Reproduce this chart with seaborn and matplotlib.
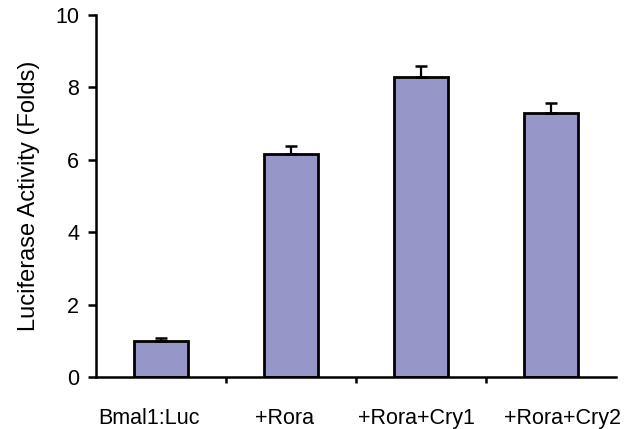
import matplotlib
matplotlib.use("Agg")
import matplotlib.pyplot as plt
import matplotlib.transforms as mtransforms
import seaborn as sns
import numpy as np
import pandas as pd

# Luciferase reporter data (fold activation over Bmal1:Luc alone)
conditions = ["Bmal1:Luc", "+Rora", "+Rora+Cry1", "+Rora+Cry2"]
fold_activity = [1.0, 6.15, 8.28, 7.3]
sem_upper = [0.08, 0.22, 0.32, 0.27]
y_ticks = [0, 2, 4, 6, 8, 10]

sns.set_theme(style="white")
plt.rcParams["font.family"] = ["Liberation Sans", "DejaVu Sans"]
plt.rcParams["text.color"] = "black"
plt.rcParams["axes.labelcolor"] = "black"
plt.rcParams["xtick.color"] = "black"
plt.rcParams["ytick.color"] = "black"

df = pd.DataFrame({"condition": conditions, "fold": fold_activity})

fig = plt.figure(figsize=(6.38, 4.29), dpi=100)
ax = fig.add_axes([0.1505, 0.1212, 0.815, 0.8438])

sns.barplot(data=df, x="condition", y="fold", color="#9696C8", saturation=1,
            edgecolor="black", linewidth=2.0, width=0.415, ax=ax, zorder=2)

# one-sided (upper) error bars
xpos = np.arange(len(conditions))
ax.errorbar(xpos, fold_activity, yerr=[np.zeros(len(sem_upper)), sem_upper],
            fmt="none", ecolor="black", elinewidth=1.6, capsize=4.2,
            capthick=1.8, zorder=3)

ax.set_xlim(-0.5, len(conditions) - 0.5)
ax.set_ylim(0, 10)
ax.set_yticks(y_ticks)
ax.set_yticklabels([str(t) for t in y_ticks])

# category labels at the bar centres, tick marks between categories
ax.set_xticks(xpos)
ax.set_xticklabels(conditions)
ax.set_xticks(np.arange(0.5, len(conditions) - 0.5, 1.0), minor=True)
ax.tick_params(axis="x", which="major", bottom=True, length=0, pad=22,
               labelsize=15.5, labelcolor="black")
ax.tick_params(axis="x", which="minor", bottom=True, length=4, width=1.8,
               direction="out", color="black")
ax.tick_params(axis="y", which="major", left=True, length=6, width=1.8,
               direction="out", color="black", pad=6, labelsize=15.5,
               labelcolor="black")

# nudge the category labels sideways (in points), as laid out on the sheet
label_shift = [-9, -5, -3, 8.5]
for lbl, dx in zip(ax.get_xticklabels(), label_shift):
    lbl.set_transform(lbl.get_transform() +
                      mtransforms.ScaledTranslation(dx / 72, 0, fig.dpi_scale_trans))

ax.set_xlabel("")
ax.set_ylabel("Luciferase Activity (Folds)", fontsize=17, labelpad=11,
              color="black")

for side in ("top", "right"):
    ax.spines[side].set_visible(False)
for side in ("left", "bottom"):
    ax.spines[side].set_color("black")
    ax.spines[side].set_linewidth(1.8)

fig.savefig("out.png", dpi=100, facecolor="white")
